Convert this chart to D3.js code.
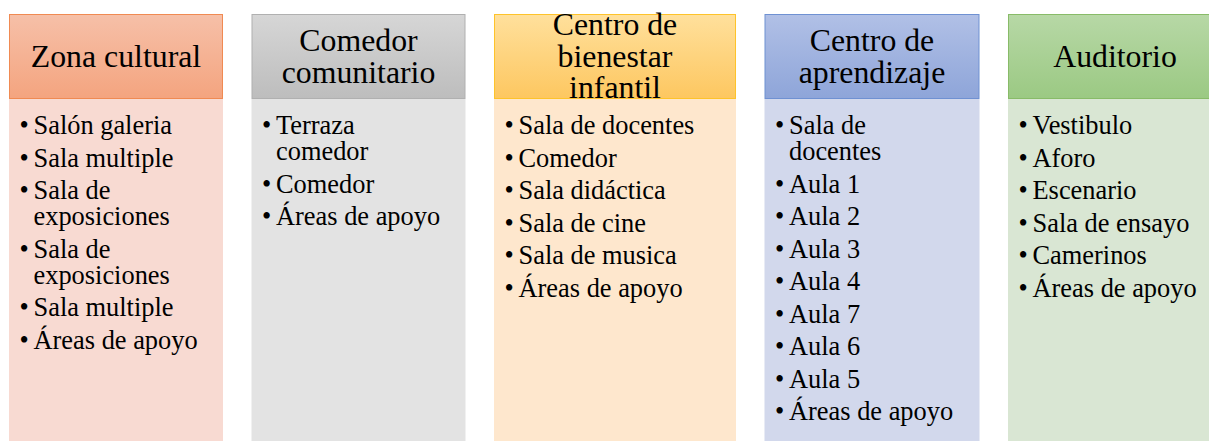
<!DOCTYPE html>
<html>
<head>
<meta charset="utf-8">
<script src="https://cdn.jsdelivr.net/npm/d3@7"></script>
<style>
  html, body { margin: 0; padding: 0; background: #fff; overflow: hidden; }
  svg { display: block; }
</style>
</head>
<body>
<svg id="chart" width="1209" height="441" font-family="'Liberation Serif', Tinos, 'Times New Roman', Times, 'DejaVu Serif', serif"></svg>
<script>
// ---- data ----
const categories = ["Zona cultural", "Comedor comunitario", "Centro de bienestar infantil", "Centro de aprendizaje", "Auditorio"];
const headerLines = [["Zona cultural"], ["Comedor", "comunitario"], ["Centro de", "bienestar", "infantil"], ["Centro de", "aprendizaje"], ["Auditorio"]];
const itemsZona = ["Salón galeria", "Sala multiple", "Sala de exposiciones", "Sala de exposiciones", "Sala multiple", "Áreas de apoyo"];
const itemsComedor = ["Terraza comedor", "Comedor", "Áreas de apoyo"];
const itemsBienestar = ["Sala de docentes", "Comedor", "Sala didáctica", "Sala de cine", "Sala de musica", "Áreas de apoyo"];
const itemsAprendizaje = ["Sala de docentes", "Aula 1", "Aula 2", "Aula 3", "Aula 4", "Aula 7", "Aula 6", "Aula 5", "Áreas de apoyo"];
const itemsAuditorio = ["Vestibulo", "Aforo", "Escenario", "Sala de ensayo", "Camerinos", "Áreas de apoyo"];
const items = [itemsZona, itemsComedor, itemsBienestar, itemsAprendizaje, itemsAuditorio];

// ---- layout / style ----
const colWidths = [214, 214, 242, 215, 214];
const gap = 28.5, left0 = 9;
const headTop = 14, headH = 85, bodyBottom = 460;
const palettes = [
  { top: "#f6c0a8", bot: "#f4a47f", border: "#f08a52", body: "#f8dad2" },
  { top: "#d6d6d6", bot: "#bdbdbd", border: "#b0b0b0", body: "#e3e3e3" },
  { top: "#ffe09c", bot: "#fdc760", border: "#fec32a", body: "#fee7cd" },
  { top: "#b1c0e6", bot: "#8ea5d9", border: "#6f91d2", body: "#d2d8ec" },
  { top: "#b7d8a6", bot: "#9bc983", border: "#88bb68", body: "#d9e6d3" }
];
const headFont = 31.8, headLine = 31.5;
const bodyFont = 26.4, wrapLine = 26, itemGap = 6.5;

const svg = d3.select("#chart");
const defs = svg.append("defs");

let xs = [];
let acc = left0;
colWidths.forEach(w => { xs.push(acc); acc += w + gap; });

const cols = svg.selectAll("g.col").data(categories).join("g")
  .attr("class", "col")
  .attr("transform", (d, i) => `translate(${xs[i]},0)`);

palettes.forEach((p, i) => {
  const g = defs.append("linearGradient").attr("id", "hg" + i)
    .attr("x1", 0).attr("y1", 0).attr("x2", 0).attr("y2", 1);
  g.append("stop").attr("offset", "0%").attr("stop-color", p.top);
  g.append("stop").attr("offset", "100%").attr("stop-color", p.bot);
});

// body
cols.append("rect")
  .attr("x", 0).attr("y", headTop + headH)
  .attr("width", (d, i) => colWidths[i])
  .attr("height", bodyBottom - headTop - headH)
  .attr("fill", (d, i) => palettes[i].body);

// header
cols.append("rect")
  .attr("x", 0.5).attr("y", headTop + 0.5)
  .attr("width", (d, i) => colWidths[i] - 1)
  .attr("height", headH - 1)
  .attr("fill", (d, i) => `url(#hg${i})`)
  .attr("stroke", (d, i) => palettes[i].border)
  .attr("stroke-width", 1);

// header text
cols.each(function (d, i) {
  const g = d3.select(this);
  const lines = headerLines[i];
  const cx = colWidths[i] / 2;
  const cy = headTop + headH / 2;
  const firstBase = cy + headFont * 0.33 - (lines.length - 1) * headLine / 2;
  const t = g.append("text").attr("text-anchor", "middle").attr("font-size", headFont).attr("fill", "#000");
  lines.forEach((ln, k) => {
    t.append("tspan").attr("x", cx).attr("y", firstBase + k * headLine).text(ln);
  });
});

// body items with wrapping
cols.each(function (d, i) {
  const g = d3.select(this);
  const textX = 24.5, bulletX = 15;
  const avail = colWidths[i] - textX - 20;
  let y = headTop + headH + 35;
  const measure = g.append("text").attr("font-size", bodyFont).attr("visibility", "hidden");
  items[i].forEach(item => {
    const words = item.split(" ");
    const lines = [];
    let cur = "";
    words.forEach(w => {
      const test = cur ? cur + " " + w : w;
      measure.text(test);
      if (cur && measure.node().getComputedTextLength() > avail) {
        lines.push(cur); cur = w;
      } else cur = test;
    });
    if (cur) lines.push(cur);
    g.append("text").attr("x", bulletX).attr("y", y).attr("text-anchor", "middle")
      .attr("font-size", bodyFont).attr("fill", "#000").text("•");
    const t = g.append("text").attr("font-size", bodyFont).attr("fill", "#000");
    lines.forEach((ln, k) => {
      t.append("tspan").attr("x", textX).attr("y", y + k * wrapLine).text(ln);
    });
    y += lines.length * wrapLine + itemGap;
  });
  measure.remove();
});
</script>
</body>
</html>
